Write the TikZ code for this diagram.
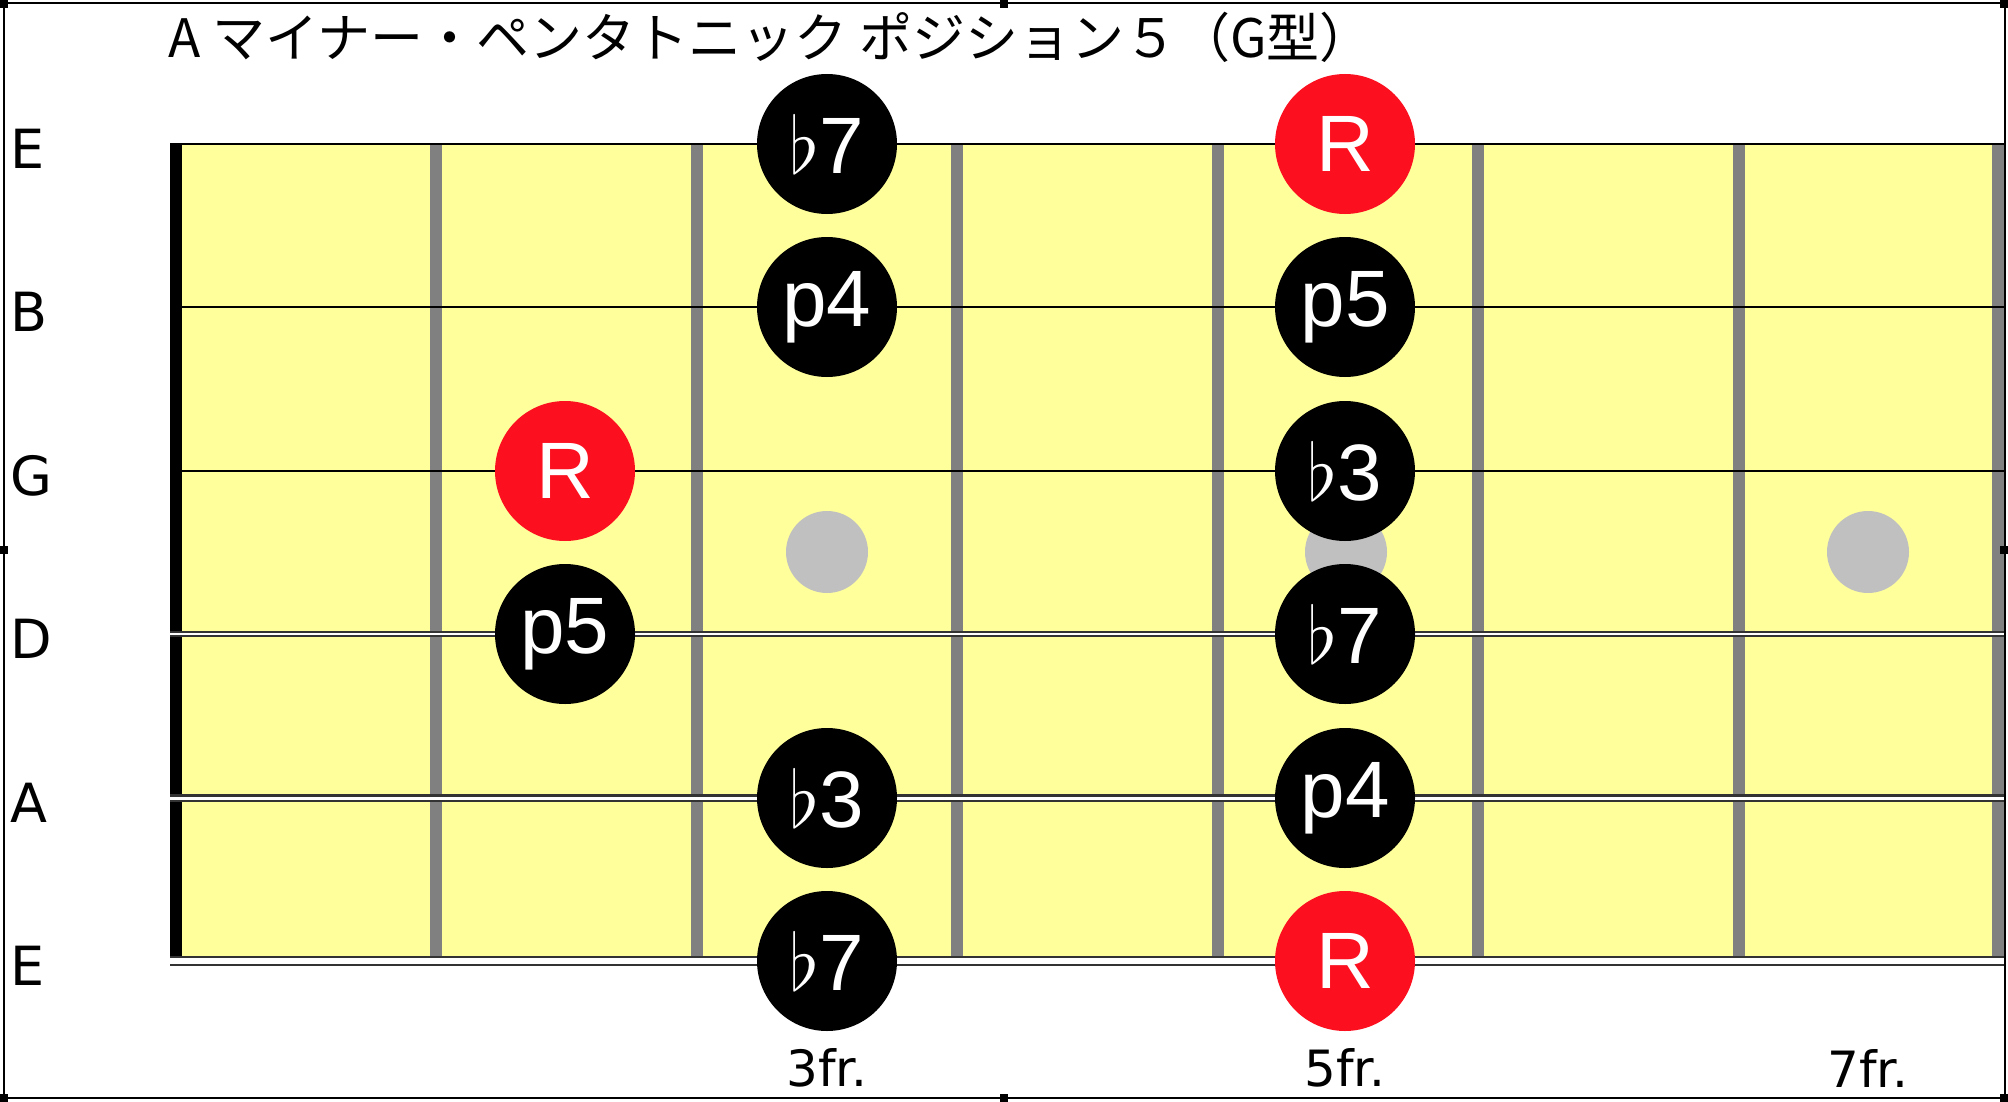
\documentclass[tikz,border=0pt]{standalone}
\usepackage{fontspec}
\usepackage{xcolor}
\usepackage{graphicx}
\newfontfamily\notefont{Liberation Sans}
\newfontfamily\labelfont{DejaVu Sans}
\newfontfamily\jpfont{Noto Sans CJK JP}
\definecolor{board}{HTML}{FFFF9C}
\definecolor{fretgray}{HTML}{808080}
\definecolor{dotgray}{HTML}{C0C0C0}
\definecolor{rootred}{HTML}{FC1020}
\definecolor{wound}{HTML}{333333}
\newcommand{\fl}{\scalebox{1.9}{\fontsize{21pt}{21pt}\selectfont$\flat$}}
\tikzset{
	note/.style={circle, fill=black, text=white, minimum size=70pt, inner sep=0pt, font=\notefont\fontsize{40pt}{40pt}\selectfont},
	root/.style={note, fill=rootred},
	inlay/.style={circle, fill=dotgray, minimum size=41pt, inner sep=0pt},
	strname/.style={anchor=west, inner sep=0pt, font=\labelfont\fontsize{27pt}{27pt}\selectfont},
	frname/.style={inner sep=0pt, font=\labelfont\fontsize{25pt}{25pt}\selectfont},
	fret/.style={fretgray, line width=6pt},
	handle/.style={fill=black}
}
\begin{document}
\begin{tikzpicture}[x=0.5pt, y=-0.5pt]
				\useasboundingbox (0, 0) rectangle (2008, 1102);
				\fill[board] (176, 144) rectangle (2004, 961);
				\draw[fret] (436, 144) -- (436, 961);
				\draw[fret] (697, 144) -- (697, 961);
				\draw[fret] (957, 144) -- (957, 961);
				\draw[fret] (1218, 144) -- (1218, 961);
				\draw[fret] (1478, 144) -- (1478, 961);
				\draw[fret] (1739, 144) -- (1739, 961);
				\draw[fret] (1998, 144) -- (1998, 961);
				\fill[black] (170, 144) rectangle (182, 961);
				\node[inlay] (i3) at (827, 552) {};
				\node[inlay] (i5) at (1346, 552) {};
				\node[inlay] (i7) at (1868, 552) {};
				\draw[line width=1.3pt] (170, 144) -- (2004, 144);
				\draw[line width=1.3pt] (170, 307) -- (2004, 307);
				\draw[line width=1.3pt] (170, 471) -- (2004, 471);
				\draw[draw=wound, double=white, line width=1pt, double distance=1pt] (170, 634) -- (2004, 634);
				\draw[draw=wound, double=white, line width=1.1pt, double distance=1.5pt] (170, 798) -- (2004, 798);
				\draw[draw=wound, double=white, line width=1pt, double distance=3pt] (170, 961) -- (2004, 961);
				\node[note] (hie3) at (827, 144) {\fl7};
				\node[root] (hie5) at (1345, 144) {R};
				\node[note] (b3) at (827, 307) {p4};
				\node[note] (b5) at (1345, 307) {p5};
				\node[root] (g2) at (565, 471) {R};
				\node[note] (g5) at (1345, 471) {\fl3};
				\node[note] (d2) at (565, 634) {p5};
				\node[note] (d5) at (1345, 634) {\fl7};
				\node[note] (a3) at (827, 798) {\fl3};
				\node[note] (a5) at (1345, 798) {p4};
				\node[note] (loe3) at (827, 961) {\fl7};
				\node[root] (loe5) at (1345, 961) {R};
				\node[strname] (lhie) at (10, 149) {E};
				\node[strname] (lb) at (10, 312) {B};
				\node[strname] (lg) at (10, 476) {G};
				\node[strname] (ld) at (10, 639) {D};
				\node[strname] (la) at (10, 803) {A};
				\node[strname] (lloe) at (10, 966) {E};
				\node[frname] (f3) at (827, 1068) {3fr.};
				\node[frname] (f5) at (1345, 1068) {5fr.};
				\node[frname] (f7) at (1868, 1068) {7fr.};
				\node[anchor=base west, inner sep=0pt, font=\jpfont\fontsize{26.5pt}{26.5pt}\selectfont] (title) at (168, 58) {A マイナー・ペンタトニック ポジション５（G型）};
				\draw[line width=1pt] (3.5, 3.5) rectangle (2004.5, 1098);
				\fill[handle] (0, 0) rectangle (8, 8);
				\fill[handle] (1000, 0) rectangle (1008, 8);
				\fill[handle] (2000, 0) rectangle (2008, 8);
				\fill[handle] (0, 546) rectangle (8, 554);
				\fill[handle] (2000, 546) rectangle (2008, 554);
				\fill[handle] (0, 1094) rectangle (8, 1102);
				\fill[handle] (1000, 1094) rectangle (1008, 1102);
				\fill[handle] (2000, 1094) rectangle (2008, 1102);
			\end{tikzpicture}
\end{document}
